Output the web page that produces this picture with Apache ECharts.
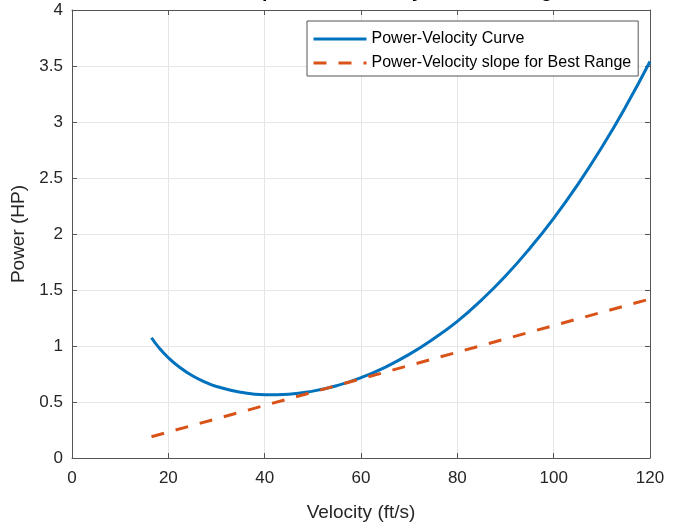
<!DOCTYPE html>
<html>
<head>
<meta charset="utf-8">
<script src="https://cdn.jsdelivr.net/npm/echarts@6/dist/echarts.min.js"></script>
<style>html,body{margin:0;padding:0;background:#fff}#c{width:675px;height:527px}</style>
</head>
<body>
<div id="c"></div>
<script>
// ---- data ----
var curveVelocity = [16.5, 18, 20, 22, 25, 28, 30, 35, 40, 45, 50, 55, 60, 65, 70, 75, 80, 85, 90, 95, 100, 105, 110, 115, 120];
var curvePower    = [1.074, 0.988, 0.895, 0.821, 0.734, 0.671, 0.639, 0.587, 0.565, 0.570, 0.597, 0.646, 0.717, 0.810, 0.925, 1.063, 1.220, 1.410, 1.625, 1.869, 2.140, 2.441, 2.774, 3.140, 3.540];
var slopeVelocity = [16.5, 120];
var slopePower    = [0.19, 1.42];
var seriesNames = ['Power-Velocity Curve', 'Power-Velocity slope for Best Range'];
var titleText = 'Power Required vs. Velocity for Best Range';
var xTicks = {min: 0, max: 120, interval: 20};
var yTicks = {min: 0, max: 4, interval: 0.5};

function pairs(xs, ys){ return xs.map(function(x,i){ return [x, ys[i]]; }); }

var axisColor = '#555555';
var textColor = '#262626';
var font = 'Liberation Sans, Arial, Helvetica, sans-serif';

var chart = echarts.init(document.getElementById('c'), null, {renderer: 'canvas'});
chart.setOption({
  animation: false,
  backgroundColor: '#ffffff',
  title: {
    text: titleText,
    left: 361,
    textAlign: 'center',
    top: -23,
    textStyle: {fontFamily: font, fontSize: 19, fontWeight: 'bold', color: '#000'}
  },
  grid: {left: 72, right: 25, top: 10, bottom: 60, containLabel: false},
  legend: {
    orient: 'vertical',
    left: 307,
    top: 21,
    padding: [10, 7, 5, 5],
    itemGap: 8,
    itemWidth: 53,
    itemHeight: 14,
    backgroundColor: '#ffffff',
    borderColor: '#555555',
    borderWidth: 1,
    borderRadius: 0,
    itemStyle: {opacity: 0, borderWidth: 0},
    lineStyle: {width: 3},
    textStyle: {fontFamily: font, fontSize: 16, color: '#000'},
    data: seriesNames
  },
  xAxis: [{
    type: 'value',
    min: xTicks.min, max: xTicks.max, interval: xTicks.interval,
    name: 'Velocity (ft/s)',
    nameLocation: 'middle',
    nameGap: 45,
    nameTextStyle: {fontFamily: font, fontSize: 19, color: textColor},
    axisLine: {show: true, onZero: false, lineStyle: {color: axisColor, width: 1}},
    axisTick: {show: true, inside: true, length: 5, lineStyle: {color: axisColor}},
    axisLabel: {fontFamily: font, fontSize: 17, color: textColor, margin: 12},
    splitLine: {show: true, lineStyle: {color: '#e6e6e6', width: 1}}
  }, {
    type: 'value', position: 'top',
    min: xTicks.min, max: xTicks.max, interval: xTicks.interval,
    axisLine: {show: true, onZero: false, lineStyle: {color: axisColor, width: 1}},
    axisTick: {show: true, inside: true, length: 5, lineStyle: {color: axisColor}},
    axisLabel: {show: false},
    splitLine: {show: false}
  }],
  yAxis: [{
    type: 'value',
    min: yTicks.min, max: yTicks.max, interval: yTicks.interval,
    name: 'Power (HP)',
    nameLocation: 'middle',
    nameGap: 39,
    nameRotate: 90,
    nameTextStyle: {fontFamily: font, fontSize: 19, color: textColor},
    axisLine: {show: true, onZero: false, lineStyle: {color: axisColor, width: 1}},
    axisTick: {show: true, inside: true, length: 5, lineStyle: {color: axisColor}},
    axisLabel: {fontFamily: font, fontSize: 17, color: textColor, margin: 9},
    splitLine: {show: true, lineStyle: {color: '#e6e6e6', width: 1}}
  }, {
    type: 'value', position: 'right',
    min: yTicks.min, max: yTicks.max, interval: yTicks.interval,
    axisLine: {show: true, onZero: false, lineStyle: {color: axisColor, width: 1}},
    axisTick: {show: true, inside: true, length: 5, lineStyle: {color: axisColor}},
    axisLabel: {show: false},
    splitLine: {show: false}
  }],
  series: [{
    name: seriesNames[0],
    type: 'line',
    data: pairs(curveVelocity, curvePower),
    smooth: true,
    symbol: 'none',
    lineStyle: {color: '#0072BD', width: 3},
    itemStyle: {color: '#0072BD'}
  }, {
    name: seriesNames[1],
    type: 'line',
    data: pairs(slopeVelocity, slopePower),
    symbol: 'none',
    lineStyle: {color: '#D95319', width: 3, type: [13, 12]},
    itemStyle: {color: '#D95319'}
  }]
});
</script>
</body>
</html>
